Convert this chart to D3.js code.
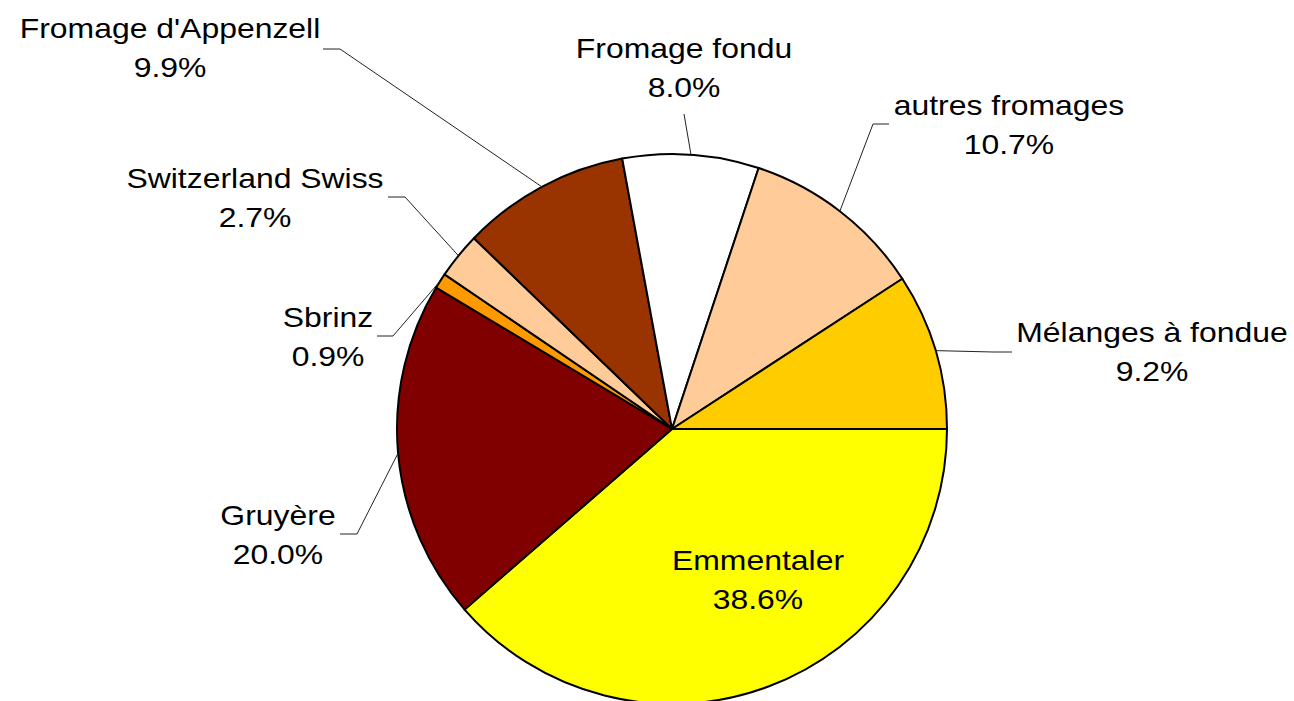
<!DOCTYPE html>
<html lang="fr">
<head>
  <meta charset="UTF-8">
  <title>Fromages</title>
  <script src="https://d3js.org/d3.v7.min.js"></script>
  <style>
    body { margin: 0; background: #fff; }
    text { font-family: "Liberation Sans", Arial, sans-serif; font-size: 28.5px; fill: #000; }
  </style>
</head>
<body>
  <svg id="chart" width="1294" height="701"></svg>
  <script>
    // Données (sens horaire depuis 3 h)
    const categories = ["Emmentaler", "Gruyère", "Sbrinz", "Switzerland Swiss", "Fromage d'Appenzell",
                        "Fromage fondu", "autres fromages", "Mélanges à fondue"];
    const shares = [38.6, 20.0, 0.9, 2.7, 9.9, 8.0, 10.7, 9.2];
    const colors = ["#ffff00", "#800000", "#ff9900", "#ffcc99", "#993300", "#ffffff", "#ffcc99", "#ffcc00"];

    // Placement des étiquettes : centre du texte, ligne de base, segment horizontal du repère
    const labelLayout = {
      "Emmentaler":          { x: 758,  y: 570, inside: true },
      "Gruyère":             { x: 278,  y: 525, h: [357, 340, 534] },
      "Sbrinz":              { x: 328,  y: 327, h: [393, 377, 336] },
      "Switzerland Swiss":   { x: 255,  y: 188, h: [405, 388, 197] },
      "Fromage d'Appenzell": { x: 170,  y: 38,  h: [340, 323, 49] },
      "Fromage fondu":       { x: 684,  y: 58,  h: [684, 684, 114] },
      "autres fromages":     { x: 1009, y: 115, h: [873, 889, 124] },
      "Mélanges à fondue":   { x: 1152, y: 342, h: [993, 1012, 352] }
    };

    const cx = 672, cy = 429, r = 275;
    const svg = d3.select("#chart");
    const g = svg.append("g").attr("transform", `translate(${cx},${cy})`);

    const data = categories.map((c, i) => ({ name: c, value: shares[i], color: colors[i] }));

    const pie = d3.pie()
        .value(d => d.value)
        .sort(null)
        .startAngle(Math.PI / 2)
        .endAngle(Math.PI / 2 + 2 * Math.PI);

    const arc = d3.arc().innerRadius(0).outerRadius(r);
    const arcs = pie(data);

    g.selectAll("path.slice")
      .data(arcs)
      .enter().append("path")
      .attr("class", "slice")
      .attr("d", arc)
      .attr("fill", d => d.data.color)
      .attr("stroke", "#000")
      .attr("stroke-width", 2)
      .attr("stroke-linejoin", "round");

    // Repères
    arcs.forEach(d => {
      const L = labelLayout[d.data.name];
      if (L.inside) return;
      const a = (d.startAngle + d.endAngle) / 2;
      const px = cx + r * Math.sin(a), py = cy - r * Math.cos(a);
      const pts = [[px, py], [L.h[0], L.h[2]], [L.h[1], L.h[2]]];
      svg.append("path")
         .attr("d", d3.line()(pts))
         .attr("fill", "none")
         .attr("stroke", "#222")
         .attr("stroke-width", 1);
    });

    // Étiquettes
    arcs.forEach(d => {
      const L = labelLayout[d.data.name];
      const t = svg.append("text")
         .attr("text-anchor", "middle")
         .attr("transform", `translate(${L.x},${L.y}) scale(1.12,1)`);
      t.append("tspan").attr("x", 0).attr("y", 0).text(d.data.name);
      t.append("tspan").attr("x", 0).attr("y", 39).text(d3.format(".1f")(d.data.value) + "%");
    });
  </script>
</body>
</html>
